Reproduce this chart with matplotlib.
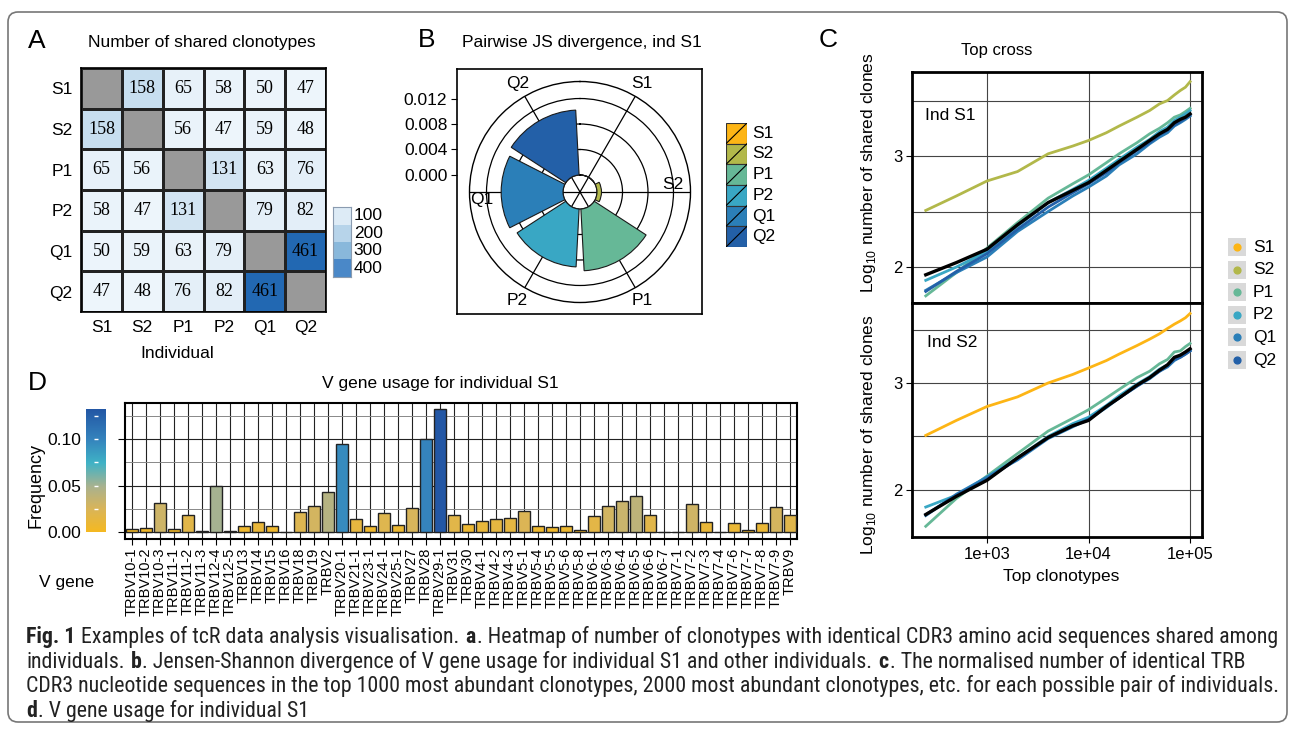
import numpy as np
import matplotlib
matplotlib.use("Agg")
import matplotlib.pyplot as plt
from matplotlib.colors import LinearSegmentedColormap, Normalize
from matplotlib.patches import Rectangle, FancyBboxPatch
from matplotlib.ticker import NullLocator
from matplotlib import font_manager

# ── Data ─────────────────────────────────────────────────────────
individuals = ["S1", "S2", "P1", "P2", "Q1", "Q2"]

# A: number of shared clonotypes (diagonal = None)
shared = [
    [None, 158, 65, 58, 50, 47],
    [158, None, 56, 47, 59, 48],
    [65, 56, None, 131, 63, 76],
    [58, 47, 131, None, 79, 82],
    [50, 59, 63, 79, None, 461],
    [47, 48, 76, 82, 461, None],
]
heat_levels = [100, 200, 300, 400]

# B: pairwise JS divergence vs S1
js_div = [0.0, 0.0007, 0.0097, 0.0091, 0.0097, 0.0102]
js_ticks = [0.000, 0.004, 0.008, 0.012]

# C: log10 number of shared clones vs top N clonotypes
top_n = [250, 500, 1000, 2000, 4000, 7000, 10000, 15000, 20000, 30000, 40000,
         50000, 60000, 70000, 80000, 90000, 100000]
top_ticks = [1e3, 1e4, 1e5]
top_labels = ["1e+03", "1e+04", "1e+05"]

s1_S2 = [2.51, 2.64, 2.775, 2.86, 3.02, 3.09, 3.14, 3.21, 3.27, 3.35, 3.41,
         3.47, 3.50, 3.55, 3.59, 3.62, 3.67]
s1_P1 = [1.74, 1.95, 2.17, 2.40, 2.62, 2.75, 2.83, 2.94, 3.02, 3.12, 3.20,
         3.25, 3.30, 3.35, 3.37, 3.40, 3.43]
s1_P2 = [1.88, 2.00, 2.14, 2.37, 2.58, 2.70, 2.78, 2.89, 2.97, 3.08, 3.15,
         3.22, 3.26, 3.32, 3.35, 3.38, 3.41]
s1_Q1 = [1.79, 1.95, 2.09, 2.32, 2.50, 2.64, 2.72, 2.82, 2.92, 3.02, 3.11,
         3.17, 3.21, 3.27, 3.30, 3.33, 3.36]
s1_Q2 = [1.78, 1.96, 2.12, 2.34, 2.54, 2.67, 2.75, 2.85, 2.94, 3.05, 3.12,
         3.19, 3.23, 3.28, 3.31, 3.34, 3.37]
s1_avg = [1.93, 2.04, 2.16, 2.38, 2.58, 2.69, 2.76, 2.87, 2.95, 3.06, 3.14,
          3.20, 3.24, 3.30, 3.33, 3.35, 3.38]

s2_S1 = [2.51, 2.65, 2.78, 2.87, 3.00, 3.08, 3.14, 3.21, 3.27, 3.35, 3.41,
         3.46, 3.51, 3.55, 3.58, 3.61, 3.65]
s2_P1 = [1.66, 1.92, 2.13, 2.34, 2.55, 2.67, 2.75, 2.86, 2.94, 3.05, 3.11,
         3.18, 3.22, 3.29, 3.30, 3.34, 3.37]
s2_P2 = [1.84, 1.95, 2.12, 2.30, 2.50, 2.62, 2.68, 2.79, 2.88, 2.99, 3.06,
         3.13, 3.17, 3.23, 3.25, 3.28, 3.31]
s2_Q1 = [1.76, 1.96, 2.12, 2.28, 2.48, 2.59, 2.66, 2.77, 2.86, 2.97, 3.04,
         3.11, 3.15, 3.21, 3.24, 3.27, 3.30]
s2_Q2 = [1.77, 1.95, 2.10, 2.29, 2.49, 2.60, 2.66, 2.78, 2.86, 2.97, 3.05,
         3.11, 3.16, 3.22, 3.24, 3.27, 3.30]
s2_avg = [1.77, 1.94, 2.09, 2.30, 2.49, 2.60, 2.65, 2.78, 2.86, 2.98, 3.05,
          3.12, 3.17, 3.24, 3.26, 3.29, 3.32]

# D: V gene usage for S1
vgenes = ["TRBV10-1", "TRBV10-2", "TRBV10-3", "TRBV11-1", "TRBV11-2", "TRBV11-3",
          "TRBV12-4", "TRBV12-5", "TRBV13", "TRBV14", "TRBV15", "TRBV16", "TRBV18",
          "TRBV19", "TRBV2", "TRBV20-1", "TRBV21-1", "TRBV23-1", "TRBV24-1",
          "TRBV25-1", "TRBV27", "TRBV28", "TRBV29-1", "TRBV31", "TRBV30", "TRBV4-1",
          "TRBV4-2", "TRBV4-3", "TRBV5-1", "TRBV5-4", "TRBV5-5", "TRBV5-6", "TRBV5-8",
          "TRBV6-1", "TRBV6-3", "TRBV6-4", "TRBV6-5", "TRBV6-6", "TRBV6-7", "TRBV7-1",
          "TRBV7-2", "TRBV7-3", "TRBV7-4", "TRBV7-6", "TRBV7-7", "TRBV7-8", "TRBV7-9",
          "TRBV9"]
vfreq = [0.003, 0.004, 0.031, 0.0036, 0.018, 0.001, 0.050, 0.001, 0.0065, 0.011,
         0.006, 0.0, 0.0216, 0.028, 0.043, 0.095, 0.0137, 0.006, 0.0205, 0.008,
         0.0255, 0.100, 0.132, 0.018, 0.0086, 0.0115, 0.014, 0.0147, 0.0227, 0.0065,
         0.005, 0.0068, 0.0018, 0.017, 0.0284, 0.033, 0.0388, 0.0183, 0.0, 0.0,
         0.030, 0.0104, 0.0, 0.0094, 0.0018, 0.0094, 0.027, 0.0187]
freq_ticks = [0.00, 0.05, 0.10]
freq_minor = [0.025, 0.075, 0.125]

# ── Styling ──────────────────────────────────────────────────────
W, H = 1295, 733
SANS = "Liberation Sans"
SERIF = "Liberation Serif"
plt.rcParams["font.family"] = [SANS, "DejaVu Sans"]
plt.rcParams["mathtext.fontset"] = "custom"
plt.rcParams["mathtext.rm"] = SANS

palette = {"S1": "#FDB515", "S2": "#B2B84A", "P1": "#66B897",
           "P2": "#39A7C4", "Q1": "#2B7FB8", "Q2": "#2360A8"}

cmap_heat = LinearSegmentedColormap.from_list("heat", [
    (0.0, "#fbfdff"), (100 / 461, "#ddebf6"), (200 / 461, "#b7d4ea"),
    (300 / 461, "#89b8db"), (400 / 461, "#4b89c8"), (1.0, "#2268b2")])
cmap_heat.set_bad("#999999")

cmap_freq = LinearSegmentedColormap.from_list("freq", [
    (0.0, "#F5B921"), (0.19, "#D9B55A"), (0.37, "#A9B28F"),
    (0.56, "#40B3C6"), (0.75, "#3584BD"), (1.0, "#2357A5")])


def px_box(x0, y0, x1, y1):
    return [x0 / W, 1 - y1 / H, (x1 - x0) / W, (y1 - y0) / H]


fig = plt.figure(figsize=(W / 100, H / 100), dpi=100)


def ftext(x, y, s, **kw):
    kw.setdefault("va", "center")
    return fig.text(x / W, 1 - y / H, s, **kw)


# outer rounded frame
fig.patches.append(FancyBboxPatch((0.08, 0.11), 12.79, 7.10,
                                  boxstyle="round,pad=0,rounding_size=0.1",
                                  transform=fig.dpi_scale_trans,
                                  fc="none", ec="#777777", lw=1.2))

# ── A: heatmap ───────────────────────────────────────────────────
axA = fig.add_axes(px_box(81, 68, 326, 312))
M = np.array([[np.nan if v is None else v for v in row] for row in shared], dtype=float)
axA.pcolormesh(np.arange(7), np.arange(7), np.ma.masked_invalid(M), cmap=cmap_heat,
               vmin=0, vmax=461, edgecolors="#222222", linewidth=1)
axA.set_xlim(0, 6)
axA.set_ylim(6, 0)
for i in range(6):
    for j in range(6):
        if not np.isnan(M[i, j]):
            axA.text(j + 0.5, i + 0.5, f"{int(M[i, j])}", ha="center", va="center",
                     family=SERIF, fontsize=13)
axA.set_xticks(np.arange(6) + 0.5, individuals)
axA.set_yticks(np.arange(6) + 0.5, individuals)
axA.tick_params(length=0, pad=6, labelsize=12.5)
for s in axA.spines.values():
    s.set_linewidth(1.2)

axAl = fig.add_axes(px_box(333, 207, 351, 277))
for k, lev in enumerate(heat_levels):
    axAl.add_patch(Rectangle((0, k), 1, 1, fc=cmap_heat(lev / 461), ec="none"))
    axAl.text(1.15, k + 0.5, str(lev), va="center", fontsize=12.5, clip_on=False)
axAl.set_xlim(0, 1)
axAl.set_ylim(4, 0)
axAl.set_xticks([])
axAl.set_yticks([])
for s in axAl.spines.values():
    s.set_color("#8a9bb0")

ftext(37, 41, "A", fontsize=19, ha="center")
ftext(88, 42, "Number of shared clonotypes", fontsize=12.5)
ftext(177, 353, "Individual", fontsize=12.5, ha="center")

# ── B: polar JS divergence ───────────────────────────────────────
R_MIN, R_MAX = -0.00267, 0.01467
axBf = fig.add_axes(px_box(457, 69, 702, 314))
axBf.set_ylim(-0.02181, 0.01663)
axBf.set_xticks([])
axBf.set_yticks(js_ticks, [f"{t:.3f}" for t in js_ticks])
axBf.tick_params(axis="y", direction="out", length=4, labelsize=12.5, pad=3)
for s in axBf.spines.values():
    s.set_linewidth(1.2)

axB = fig.add_axes(px_box(469.5, 81.5, 690.5, 302.5), projection="polar")
axB.set_theta_zero_location("N")
axB.set_theta_direction(-1)
axB.set_ylim(R_MIN, R_MAX)
theta = np.deg2rad(30 + 60 * np.arange(len(individuals)))
axB.bar(theta, js_div, width=np.deg2rad(54), bottom=0,
        color=[palette[n] for n in individuals], edgecolor="#1a1a1a",
        linewidth=0.8, zorder=3)
axB.set_rgrids(js_ticks, labels=[])
axB.set_thetagrids(np.degrees(theta), labels=[])
axB.grid(True, color="black", lw=0.9)
axB.spines["polar"].set_linewidth(1.0)
axB.patch.set_alpha(0)
for n, th in zip(individuals, theta):
    deg = np.degrees(th)
    if np.isclose(deg, 90):
        axB.text(th, 0.0119, n, ha="center", va="bottom", fontsize=12.5)
    elif np.isclose(deg, 270):
        axB.text(th, 0.0127, n, ha="center", va="top", fontsize=12.5)
    else:
        axB.text(th, 0.0169, n, ha="center", va="center", fontsize=12.5, clip_on=False)

axBl = fig.add_axes(px_box(726, 123, 747, 247))
for i, n in enumerate(individuals):
    axBl.add_patch(Rectangle((0, i), 1, 1, fc=palette[n], ec="#333333", lw=0.8))
    axBl.plot([0, 1], [i + 1, i], color="black", lw=0.8)
    axBl.text(1.25, i + 0.5, n, va="center", fontsize=12.5, clip_on=False)
axBl.set_xlim(0, 1)
axBl.set_ylim(6, 0)
axBl.axis("off")

ftext(427, 40, "B", fontsize=19, ha="center")
ftext(462, 42, "Pairwise JS divergence, ind S1", fontsize=12.5)

# ── C: top cross ─────────────────────────────────────────────────
axC1 = fig.add_axes(px_box(912, 72, 1202, 303))
axC2 = fig.add_axes(px_box(912, 303, 1202, 537))
upper = {"S2": s1_S2, "P1": s1_P1, "P2": s1_P2, "Q1": s1_Q1, "Q2": s1_Q2}
lower = {"S1": s2_S1, "P1": s2_P1, "P2": s2_P2, "Q1": s2_Q1, "Q2": s2_Q2}
for ax, series, avg, ylim, tag, tag_xy in (
        (axC1, upper, s1_avg, (1.676, 3.757), "Ind S1", (0.045, 0.81)),
        (axC2, lower, s2_avg, (1.56, 3.748), "Ind S2", (0.052, 0.833))):
    ax.set_xscale("log")
    ax.set_xlim(183, 131000)
    ax.set_ylim(*ylim)
    for n, vals in series.items():
        ax.plot(top_n, vals, color=palette[n], lw=2)
    ax.plot(top_n, avg, color="black", lw=2.4)
    ax.set_xticks(top_ticks, top_labels)
    ax.xaxis.set_minor_locator(NullLocator())
    ax.set_yticks([2, 3], ["2", "3"])
    ax.set_yticks([2.5, 3.5], minor=True)
    ax.grid(which="both", color="#444444", lw=0.8)
    ax.tick_params(which="minor", length=0)
    ax.tick_params(which="major", direction="out", length=4, labelsize=12, pad=3)
    for s in ax.spines.values():
        s.set_linewidth(2)
    ax.text(*tag_xy, tag, transform=ax.transAxes, va="center", fontsize=12.5)
axC1.tick_params(axis="x", length=0, labelbottom=False)

axCl = fig.add_axes(px_box(1226, 236, 1290, 371))
for i, n in enumerate(individuals):
    axCl.add_patch(Rectangle((2, 2 + 22.6 * i), 18, 18, fc="#d9d9d9", ec="none"))
    axCl.scatter([11], [11 + 22.6 * i], s=24, color=palette[n], zorder=3)
    axCl.text(27, 11 + 22.6 * i, n, va="center", fontsize=12.5)
axCl.set_xlim(0, 64)
axCl.set_ylim(135, 0)
axCl.axis("off")

ftext(828, 40, "C", fontsize=19, ha="center")
ftext(997, 51, "Top cross", fontsize=12, ha="center")
ftext(868, 173, r"Log$_{\mathregular{10}}$ number of shared clones", fontsize=12.5,
      rotation=90, ha="center")
ftext(868, 435, r"Log$_{\mathregular{10}}$ number of shared clones", fontsize=12.5,
      rotation=90, ha="center")
ftext(1061, 577, "Top clonotypes", fontsize=12.5, ha="center")

# ── D: V gene usage ──────────────────────────────────────────────
vmax = max(vfreq)
norm = Normalize(0, vmax)
axD = fig.add_axes(px_box(125, 403, 797, 539))
x = np.arange(len(vgenes))
axD.bar(x, vfreq, width=0.88, color=[cmap_freq(norm(v)) for v in vfreq],
        edgecolor="#222222", linewidth=1, zorder=3)
axD.set_xlim(-0.5, len(vgenes) - 0.5)
axD.set_ylim(-0.0075, 0.1387)
axD.set_xticks(x, vgenes, rotation=90, fontsize=10.5)
axD.set_yticks(freq_ticks, [f"{t:.2f}" for t in freq_ticks])
axD.set_yticks(freq_minor, minor=True)
axD.grid(which="major", color="#222222", lw=0.8)
axD.grid(which="minor", axis="y", color="#888888", lw=0.7)
axD.tick_params(axis="x", direction="out", length=4, pad=2)
axD.tick_params(axis="y", which="major", direction="out", length=5, pad=26.6,
                labelsize=12.5)
axD.tick_params(axis="y", which="minor", length=0)
for s in axD.spines.values():
    s.set_linewidth(1.5)

axDc = fig.add_axes(px_box(86, 403, 106, 539))
axDc.imshow(np.linspace(0, 1, 256)[:, None], extent=(0, 1, 0, vmax), origin="lower",
            aspect="auto", cmap=cmap_freq)
axDc.hlines(freq_minor + freq_ticks[1:], 0.38, 0.62, color="white", lw=1)
axDc.set_xlim(0, 1)
axDc.set_ylim(-0.0075, 0.1387)
axDc.axis("off")

ftext(37, 383, "D", fontsize=19, ha="center")
ftext(440, 383, "V gene usage for individual S1", fontsize=12.5, ha="center")
ftext(36, 486, "Frequency", fontsize=13, rotation=90, ha="center")
ftext(67, 582, "V gene", fontsize=12.5, ha="center")

# ── Caption ──────────────────────────────────────────────────────
names = {f.name for f in font_manager.fontManager.ttflist}
CAP = next((c for c in ["Liberation Sans Narrow", "Roboto Condensed",
                        "Open Sans Condensed", "Noto Sans"] if c in names), SANS)
caption = [
    [("Fig. 1", True), (" ", False), ("Examples of tcR data analysis visualisation.", False),
     (" ", False), ("a", True),
     (". Heatmap of number of clonotypes with identical CDR3 amino acid sequences shared among", False)],
    [("individuals.", False), (" ", False), ("b", True),
     (". Jensen-Shannon divergence of V gene usage for individual S1 and other individuals.", False),
     (" ", False), ("c", True), (". The normalised number of identical TRB", False)],
    [("CDR3 nucleotide sequences in the top 1000 most abundant clonotypes, 2000 most abundant clonotypes, etc. for each possible pair of individuals.", False)],
    [("d", True), (". V gene usage for individual S1", False)],
]
renderer = fig.canvas.get_renderer()


def text_w(s, size, bold):
    t = fig.text(0, 0, s, fontsize=size, family=CAP, weight="bold" if bold else "normal")
    w = t.get_window_extent(renderer).width
    t.remove()
    return w


def line_w(line, size):
    sp = text_w("a a", size, False) - text_w("aa", size, False)
    return sum(sp if seg == " " else text_w(seg, size, b) + 1 for seg, b in line)


cap_size = 10.0
for _ in range(3):
    cap_size *= 1255 / line_w(caption[0], cap_size)
for _ in range(2):
    w3 = line_w(caption[2], cap_size)
    if w3 > 1258:
        cap_size *= 1258 / w3

space_w = text_w("a a", cap_size, False) - text_w("aa", cap_size, False)
for li, line in enumerate(caption):
    xpos = 26
    ybase = 643 + 24.7 * li
    for seg, bold in line:
        if seg == " ":
            xpos += space_w
            continue
        ftext(xpos, ybase, seg, fontsize=cap_size, family=CAP, va="baseline",
              weight="bold" if bold else "normal", color="#222222")
        xpos += text_w(seg, cap_size, bold) + 1

fig.savefig("out.png", dpi=100)
